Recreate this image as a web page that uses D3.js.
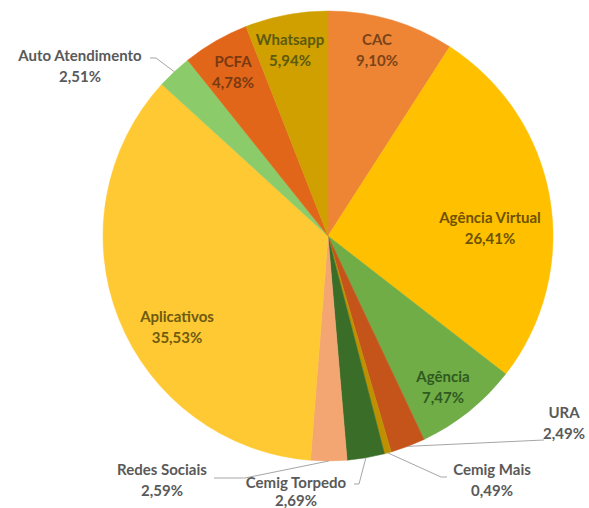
<!DOCTYPE html>
<html><head><meta charset="utf-8">
<script src="https://cdn.jsdelivr.net/npm/d3@7"></script>
<style>body{margin:0;background:#fff}svg{display:block}text{font-family:Lato,"Open Sans",sans-serif;font-weight:bold}</style>
</head><body>
<svg id="c" width="589" height="508"></svg>
<script>
const categories = ["CAC","Agência Virtual","Agência","URA","Cemig Mais","Cemig Torpedo","Redes Sociais","Aplicativos","Auto Atendimento","PCFA","Whatsapp"];
const values = [9.10,26.41,7.47,2.49,0.49,2.69,2.59,35.53,2.51,4.78,5.94];
const colors = ["#EE8535","#FFC000","#70AD47","#C4541A","#BF9000","#3A6E28","#F4A672","#FFC933","#8CCB6A","#E1661A","#CFA000"];
const labelColors = ["#7a4418","#6e5200","#2f5a1f","#595959","#595959","#595959","#595959","#6e5a10","#595959","#7a3a10","#5c5a10"];

// label layout (text centre x, baseline y of first line, line gap) and leader line bends
const layout = [
  {x:377,y:45},{x:490,y:223},{x:443,y:382},
  {x:564,y:418,lead:[[544,440]]},
  {x:492,y:475,lead:[[447,477],[441,477]]},
  {x:296,y:488,gap:18,lead:[[354,484],[359,484]]},
  {x:162,y:475,lead:[[214,478],[245,478]]},
  {x:177,y:322},
  {x:80,y:61,lead:[[150,58],[156,58]]},
  {x:233,y:67},{x:290,y:45}
];

const fmt = v => v.toFixed(2).replace(".", ",") + "%";
const cx = 328, cy = 236, R = 225;
const svg = d3.select("#c");
const g = svg.append("g").attr("transform", `translate(${cx},${cy})`);
const pie = d3.pie().sort(null).value(d => d)(values);
const arc = d3.arc().innerRadius(0).outerRadius(R);
const edge = d3.arc().innerRadius(R).outerRadius(R);

g.selectAll("path.s").data(pie).join("path").attr("class","s")
  .attr("d", arc).attr("fill", (d,i) => colors[i])
  .attr("stroke", (d,i) => colors[i]).attr("stroke-width", 0.5);

// leader lines
pie.forEach((d,i) => {
  const L = layout[i];
  if (!L.lead) return;
  const [ex, ey] = edge.centroid(d);
  const pts = L.lead.map(p => [p[0]-cx, p[1]-cy]).concat([[ex, ey]]);
  g.append("path").attr("d", d3.line()(pts)).attr("fill","none")
    .attr("stroke","#a6a6a6").attr("stroke-width",1);
});

const lg = svg.append("g");
pie.forEach((d,i) => {
  const L = layout[i];
  const t = lg.append("text").attr("text-anchor","middle").attr("font-size",15)
    .attr("fill", labelColors[i]);
  t.append("tspan").attr("x", L.x).attr("y", L.y).text(categories[i]);
  t.append("tspan").attr("x", L.x).attr("y", L.y + (L.gap || 21)).text(fmt(values[i]));
});
</script>
</body></html>
